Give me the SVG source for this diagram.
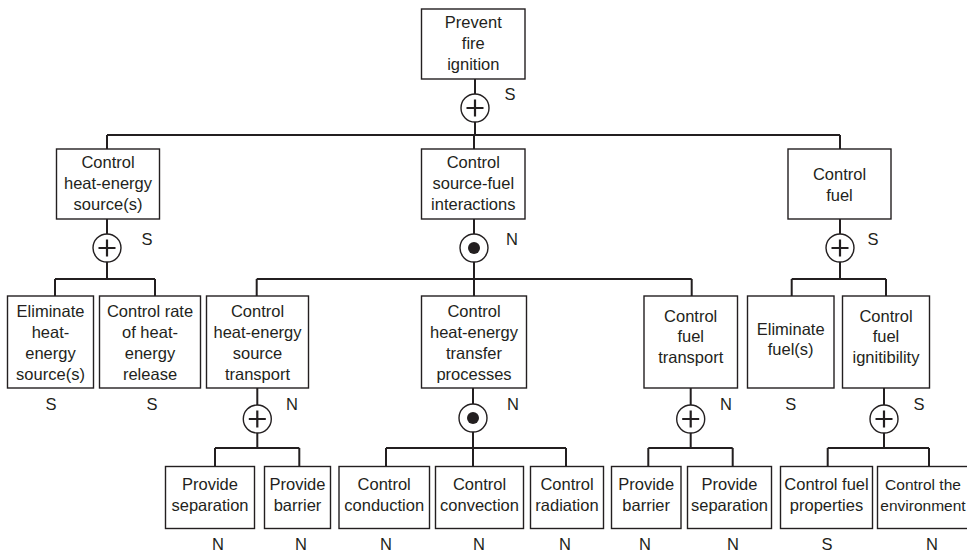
<svg xmlns="http://www.w3.org/2000/svg" width="967" height="556" viewBox="0 0 967 556">
<style>
.box{fill:#fff;stroke:#231f20;stroke-width:1.4}
.t{font-family:"Liberation Sans",Arial,sans-serif;font-size:16.5px;fill:#231f20;text-anchor:middle}
.c{fill:none;stroke:#231f20;stroke-width:2}
.g{fill:#fff;stroke:#231f20;stroke-width:1.4}
.p{stroke:#231f20;stroke-width:2.2;fill:none}
.d{fill:#231f20}
</style>
<rect width="967" height="556" fill="#fff"/>
<g id="connectors">
<path class="c" d="M475 79V94M475 122V135M107 135H840M107 135V149M474 135V149M840 135V149"/>
<path class="c" d="M107 219V234M107 262V279M55 279H155M55 279V296M155 279V296"/>
<path class="c" d="M474 219V234M474 262V279M256.7 279H691.7M256.7 279V296M474 279V296M691.7 279V296"/>
<path class="c" d="M840 219V234M840 262V279M791.7 279H886M791.7 279V296M886 279V296"/>
<path class="c" d="M257.3 388V405M257.3 433V448M215 448H299.3M215 448V466.5M299.3 448V466.5"/>
<path class="c" d="M473 388V404M473 432V448M386 448H566M386 448V466.5M473 448V466.5M566 448V466.5"/>
<path class="c" d="M690.7 388V405M690.7 433V448M648.3 448H732.7M648.3 448V466.5M732.7 448V466.5"/>
<path class="c" d="M884 388V405M884 433V448M827.7 448H929M827.7 448V466.5M929 448V466.5"/>
</g>
<g id="gate-top"><circle class="g" cx="475" cy="108" r="14"/><path class="p" d="M466.5 108H483.5M475 99.5V116.5"/><text class="t" x="510" y="100">S</text></g>
<g id="gate-heat"><circle class="g" cx="107" cy="248" r="14"/><path class="p" d="M98.5 248H115.5M107 239.5V256.5"/><text class="t" x="147" y="245">S</text></g>
<g id="gate-interact"><circle class="g" cx="474" cy="248" r="14"/><circle class="d" cx="474" cy="248" r="6"/><text class="t" x="512" y="245">N</text></g>
<g id="gate-fuel"><circle class="g" cx="840" cy="248" r="14"/><path class="p" d="M831.5 248H848.5M840 239.5V256.5"/><text class="t" x="873" y="245">S</text></g>
<g id="gate-hst"><circle class="g" cx="257.3" cy="419" r="14"/><path class="p" d="M248.8 419H265.8M257.3 410.5V427.5"/><text class="t" x="292" y="410">N</text></g>
<g id="gate-transfer"><circle class="g" cx="473" cy="418" r="14"/><circle class="d" cx="473" cy="418" r="6"/><text class="t" x="513" y="410">N</text></g>
<g id="gate-fuelt"><circle class="g" cx="690.7" cy="419" r="14"/><path class="p" d="M682.2 419H699.2M690.7 410.5V427.5"/><text class="t" x="726" y="410">N</text></g>
<g id="gate-ign"><circle class="g" cx="884" cy="419" r="14"/><path class="p" d="M875.5 419H892.5M884 410.5V427.5"/><text class="t" x="919" y="410">S</text></g>

<g id="n-prevent"><rect class="box" x="421.5" y="9" width="103.5" height="70"/><text class="t" x="473.3" y="28">Prevent</text><text class="t" x="473.3" y="49">fire</text><text class="t" x="473.3" y="70">ignition</text></g>
<g id="n-heat"><rect class="box" x="56.5" y="149" width="103" height="70"/><text class="t" x="108" y="168">Control</text><text class="t" x="108" y="189">heat-energy</text><text class="t" x="108" y="210">source(s)</text></g>
<g id="n-interact"><rect class="box" x="421.5" y="149" width="103.5" height="70"/><text class="t" x="473.3" y="168">Control</text><text class="t" x="473.3" y="189">source-fuel</text><text class="t" x="473.3" y="210">interactions</text></g>
<g id="n-fuel"><rect class="box" x="788" y="149" width="103" height="70"/><text class="t" x="839.5" y="180">Control</text><text class="t" x="839.5" y="201">fuel</text></g>

<g id="n-elim-heat"><rect class="box" x="7.5" y="296" width="86" height="92"/><text class="t" x="50.5" y="317">Eliminate</text><text class="t" x="50.5" y="338">heat-</text><text class="t" x="50.5" y="359">energy</text><text class="t" x="50.5" y="380">source(s)</text><text class="t" x="51" y="410">S</text></g>
<g id="n-rate"><rect class="box" x="99.5" y="296" width="101" height="92"/><text class="t" x="150" y="317">Control rate</text><text class="t" x="150" y="338">of heat-</text><text class="t" x="150" y="359">energy</text><text class="t" x="150" y="380">release</text><text class="t" x="152" y="410">S</text></g>
<g id="n-hst"><rect class="box" x="206.5" y="296" width="102" height="92"/><text class="t" x="257.5" y="317">Control</text><text class="t" x="257.5" y="338">heat-energy</text><text class="t" x="257.5" y="359">source</text><text class="t" x="257.5" y="380">transport</text></g>
<g id="n-transfer"><rect class="box" x="421.5" y="296" width="105" height="92"/><text class="t" x="474" y="317">Control</text><text class="t" x="474" y="338">heat-energy</text><text class="t" x="474" y="359">transfer</text><text class="t" x="474" y="380">processes</text></g>
<g id="n-fuelt"><rect class="box" x="644" y="296" width="93.5" height="92"/><text class="t" x="690.7" y="322">Control</text><text class="t" x="690.7" y="342">fuel</text><text class="t" x="690.7" y="363">transport</text></g>
<g id="n-elim-fuel"><rect class="box" x="747.5" y="296" width="86.5" height="92"/><text class="t" x="790.7" y="335">Eliminate</text><text class="t" x="790.7" y="355">fuel(s)</text><text class="t" x="790.7" y="410">S</text></g>
<g id="n-ign"><rect class="box" x="842.5" y="296" width="87" height="92"/><text class="t" x="886" y="322">Control</text><text class="t" x="886" y="342">fuel</text><text class="t" x="886" y="363">ignitibility</text></g>

<g id="n-sep1"><rect class="box" x="165.5" y="466.5" width="89" height="62"/><text class="t" x="210" y="490">Provide</text><text class="t" x="210" y="511">separation</text><text class="t" x="218" y="550">N</text></g>
<g id="n-bar1"><rect class="box" x="264.5" y="466.5" width="66" height="62"/><text class="t" x="297.5" y="490">Provide</text><text class="t" x="297.5" y="511">barrier</text><text class="t" x="301" y="550">N</text></g>
<g id="n-cond"><rect class="box" x="339" y="466.5" width="90.5" height="62"/><text class="t" x="384.2" y="490">Control</text><text class="t" x="384.2" y="511">conduction</text><text class="t" x="386" y="550">N</text></g>
<g id="n-conv"><rect class="box" x="435.5" y="466.5" width="88" height="62"/><text class="t" x="479.5" y="490">Control</text><text class="t" x="479.5" y="511">convection</text><text class="t" x="479" y="550">N</text></g>
<g id="n-rad"><rect class="box" x="530.5" y="466.5" width="73" height="62"/><text class="t" x="567" y="490">Control</text><text class="t" x="567" y="511">radiation</text><text class="t" x="565" y="550">N</text></g>
<g id="n-bar2"><rect class="box" x="611.5" y="466.5" width="69.5" height="62"/><text class="t" x="646.2" y="490">Provide</text><text class="t" x="646.2" y="511">barrier</text><text class="t" x="645" y="550">N</text></g>
<g id="n-sep2"><rect class="box" x="687.5" y="466.5" width="84" height="62"/><text class="t" x="729.5" y="490">Provide</text><text class="t" x="729.5" y="511">separation</text><text class="t" x="733" y="550">N</text></g>
<g id="n-props"><rect class="box" x="780.5" y="466.5" width="92" height="62"/><text class="t" x="826.5" y="490">Control fuel</text><text class="t" x="826.5" y="511">properties</text><text class="t" x="827" y="550">S</text></g>
<g id="n-env"><rect class="box" x="877.5" y="466.5" width="100" height="62"/><text class="t" x="923" y="490" style="font-size:15.5px">Control the</text><text class="t" x="923" y="511" style="font-size:15.5px">environment</text><text class="t" x="932" y="550">N</text></g>
</svg>
